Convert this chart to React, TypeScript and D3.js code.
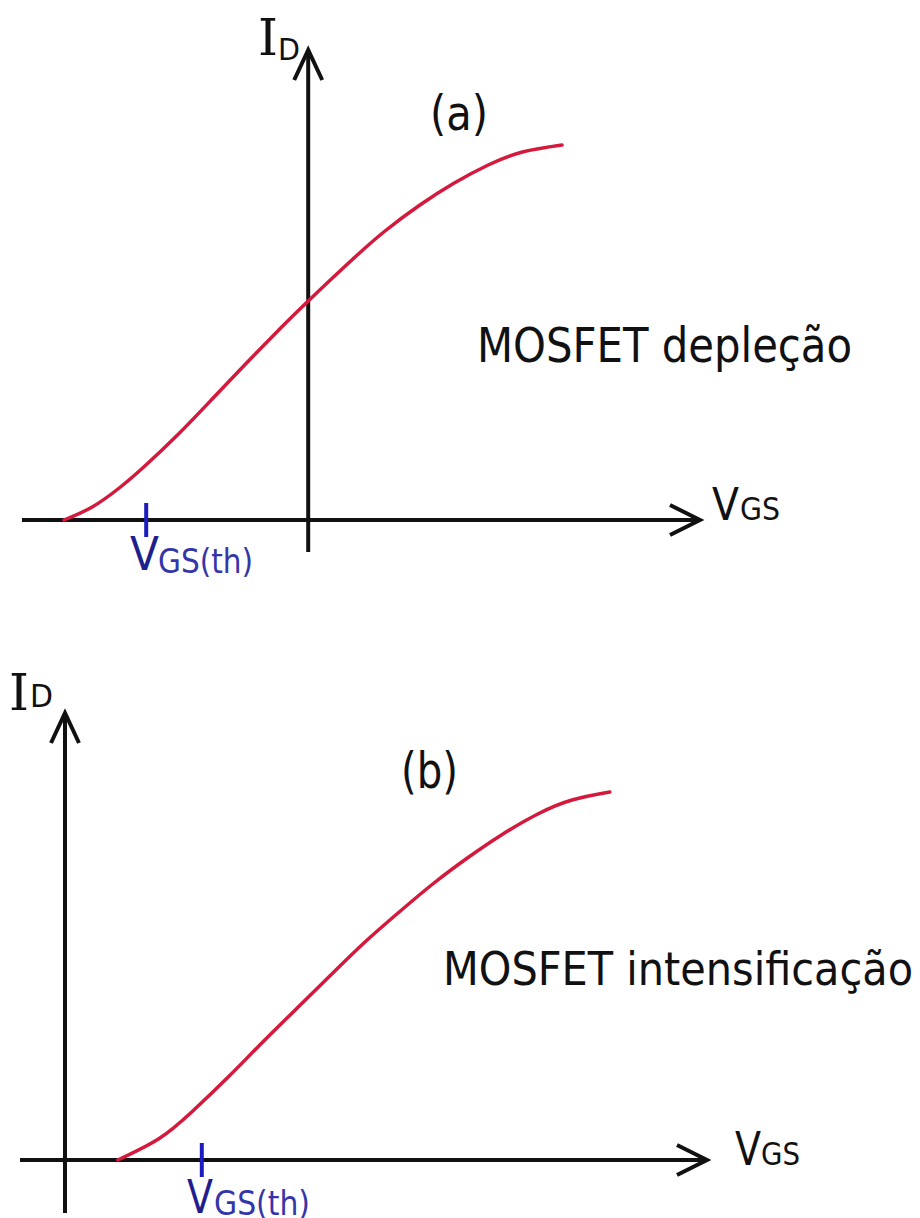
import React from "react";
import * as d3 from "d3";

// Transfer characteristic, depletion-type MOSFET (VGS in V, ID in mA)
const vgsDepletion = [-4.07, -3.6, -3.15, -2.75, -2.17, -1.6, -1.02, -0.45, 0, 0.7, 1.27, 1.85, 2.42, 3.0, 3.57, 4.23];
const idDepletion = [0, 0.26, 0.64, 1.05, 1.71, 2.42, 3.15, 3.85, 4.38, 5.17, 5.77, 6.29, 6.73, 7.1, 7.36, 7.5];

// Transfer characteristic, enhancement-type MOSFET
const vgsEnhancement = [0.88, 1.57, 2.13, 2.72, 3.28, 3.87, 4.43, 5.0, 5.58, 6.15, 6.73, 7.3, 7.88, 8.45, 9.08];
const idEnhancement = [0, 0.43, 0.98, 1.66, 2.34, 3.04, 3.7, 4.36, 4.97, 5.54, 6.06, 6.52, 6.92, 7.2, 7.36];

// Threshold voltages marked on the VGS axis
const thresholds = [-2.7, 2.28];

const panelTags = ["(a)", "(b)"];
const panelTitles = ["MOSFET depleção", "MOSFET intensificação"];

const AXIS = "#111";
const CURVE = "#d41a3c";
const TICK = "#1c1cc0";
const TH_V = "#1e1e8e";
const TH_SUB = "#3535aa";

type Panel = {
  x: d3.ScaleLinear<number, number>;
  y: d3.ScaleLinear<number, number>;
  vgs: number[];
  id: number[];
  th: number;
};

const panels: Panel[] = [
  {
    x: d3.scaleLinear().domain([-4.77, 6.53]).range([22, 700]),
    y: d3.scaleLinear().domain([-0.64, 9.4]).range([552, 50]),
    vgs: vgsDepletion,
    id: idDepletion,
    th: thresholds[0],
  },
  {
    x: d3.scaleLinear().domain([-0.75, 10.7]).range([20, 707]),
    y: d3.scaleLinear().domain([-1.06, 8.94]).range([1213, 713]),
    vgs: vgsEnhancement,
    id: idEnhancement,
    th: thresholds[1],
  },
];

function Axes({ p }: { p: Panel }) {
  const [x0, x1] = p.x.domain();
  const [y0, y1] = p.y.domain();
  const ox = p.x(0);
  const oy = p.y(0);
  const xEnd = p.x(x1);
  const yEnd = p.y(y1);
  return (
    <g stroke={AXIS} strokeWidth={4} fill="none" strokeLinecap="butt">
      <line x1={p.x(x0)} y1={oy} x2={xEnd} y2={oy} />
      <polyline points={`${xEnd - 30},${oy - 15} ${xEnd},${oy} ${xEnd - 30},${oy + 15}`} strokeLinejoin="miter" />
      <line x1={ox} y1={p.y(y0)} x2={ox} y2={yEnd} />
      <polyline points={`${ox - 14},${yEnd + 30} ${ox},${yEnd} ${ox + 14},${yEnd + 30}`} strokeLinejoin="miter" />
    </g>
  );
}

function Curve({ p }: { p: Panel }) {
  const pts = p.vgs.map((v, i) => [v, p.id[i]] as [number, number]);
  const line = d3
    .line<[number, number]>()
    .x((d) => p.x(d[0]))
    .y((d) => p.y(d[1]))
    .curve(d3.curveNatural);
  return <path d={line(pts) || ""} fill="none" stroke={CURVE} strokeWidth={3.5} strokeLinecap="round" />;
}

function ThTick({ p }: { p: Panel }) {
  const tx = p.x(p.th);
  return <line x1={tx} x2={tx} y1={p.y(0.34)} y2={p.y(-0.34)} stroke={TICK} strokeWidth={4} />;
}

const sans = "DejaVu Sans, Verdana, sans-serif";
const serif = "DejaVu Serif, serif";

export default function App() {
  const [pa, pb] = panels;
  return (
    <svg
      width={920}
      height={1218}
      viewBox="0 0 920 1218"
      style={{ position: "absolute", left: 0, top: 0, background: "#fff" }}
    >
      <rect width={920} height={1218} fill="#fff" />

      {/* panel (a) */}
      <Axes p={pa} />
      <Curve p={pa} />
      <ThTick p={pa} />
      <text x={258} y={55} fontFamily={serif} fontSize={51} fill="#111" textLength={20} lengthAdjust="spacingAndGlyphs">I</text>
      <text x={278} y={60} fontFamily={sans} fontSize={30} fill="#111" textLength={22} lengthAdjust="spacingAndGlyphs">D</text>
      <text x={430} y={130} fontFamily={sans} fontSize={48} fill="#111" textLength={58} lengthAdjust="spacingAndGlyphs">{panelTags[0]}</text>
      <text x={477} y={362} fontFamily={sans} fontSize={48} fill="#111" textLength={375} lengthAdjust="spacingAndGlyphs">{panelTitles[0]}</text>
      <text x={712} y={520} fontFamily={sans} fontSize={45} fill="#111" textLength={27} lengthAdjust="spacingAndGlyphs">V</text>
      <text x={740} y={520} fontFamily={sans} fontSize={32} fill="#111" textLength={40} lengthAdjust="spacingAndGlyphs">GS</text>
      <text x={130} y={570} fontFamily={sans} fontSize={47} fill={TH_V} textLength={29} lengthAdjust="spacingAndGlyphs">V</text>
      <text x={158} y={573} fontFamily={sans} fontSize={34} fill={TH_SUB} textLength={95} lengthAdjust="spacingAndGlyphs">GS(th)</text>

      {/* panel (b) */}
      <Axes p={pb} />
      <Curve p={pb} />
      <ThTick p={pb} />
      <text x={9} y={710} fontFamily={serif} fontSize={51} fill="#111" textLength={20} lengthAdjust="spacingAndGlyphs">I</text>
      <text x={30} y={707} fontFamily={sans} fontSize={32} fill="#111" textLength={23} lengthAdjust="spacingAndGlyphs">D</text>
      <text x={401} y={788} fontFamily={sans} fontSize={50} fill="#111" textLength={57} lengthAdjust="spacingAndGlyphs">{panelTags[1]}</text>
      <text x={443} y={985} fontFamily={sans} fontSize={46} fill="#111" textLength={470} lengthAdjust="spacingAndGlyphs">{panelTitles[1]}</text>
      <text x={735} y={1165} fontFamily={sans} fontSize={47} fill="#111" textLength={26} lengthAdjust="spacingAndGlyphs">V</text>
      <text x={761} y={1165} fontFamily={sans} fontSize={32} fill="#111" textLength={39} lengthAdjust="spacingAndGlyphs">GS</text>
      <text x={187} y={1213} fontFamily={sans} fontSize={47} fill={TH_V} textLength={26} lengthAdjust="spacingAndGlyphs">V</text>
      <text x={214} y={1215} fontFamily={sans} fontSize={34} fill={TH_SUB} textLength={96} lengthAdjust="spacingAndGlyphs">GS(th)</text>
    </svg>
  );
}
